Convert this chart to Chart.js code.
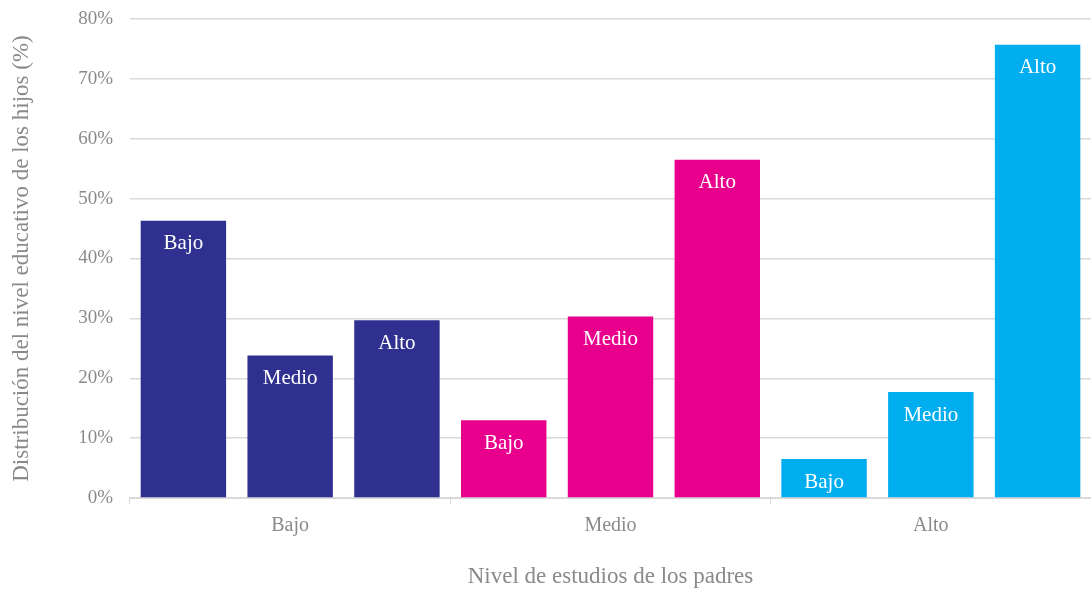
<!DOCTYPE html>
<html>
<head>
<meta charset="utf-8">
<script src="https://cdn.jsdelivr.net/npm/chart.js@4"></script>
<style>
  html, body { margin: 0; padding: 0; background: #fff; }
  #wrap { width: 1091px; height: 591px; }
</style>
</head>
<body>
<div id="wrap"><canvas id="chart"></canvas></div>
<script>
// Nivel de estudios de los padres (eje X)
const padres = ['Bajo', 'Medio', 'Alto'];
// Nivel educativo de los hijos (una serie por nivel)
const hijos = ['Bajo', 'Medio', 'Alto'];
const hijosBajo = [46.3, 13.0, 6.5];
const hijosMedio = [23.8, 30.3, 17.7];
const hijosAlto = [29.7, 56.5, 75.7];
const coloresPadres = ['#303090', '#E8008C', '#00AEEF'];

const fuente = "'Liberation Serif', 'DejaVu Serif', serif";
const gris = '#8a8a8a';

// etiqueta blanca dentro de cada barra
const etiquetas = {
    id: 'etiquetas',
    afterDatasetsDraw(chart) {
        const ctx = chart.ctx;
        ctx.save();
        ctx.fillStyle = '#ffffff';
        ctx.font = '21px ' + fuente;
        ctx.textAlign = 'center';
        ctx.textBaseline = 'middle';
        chart.data.datasets.forEach((ds, i) => {
            chart.getDatasetMeta(i).data.forEach(bar => {
                ctx.fillText(ds.label, bar.x, bar.y + 23);
            });
        });
        ctx.restore();
    }
};

const ctx = document.getElementById('chart').getContext('2d');
const chart = new Chart(ctx, {
    type: 'bar',
    data: {
        labels: padres,
        datasets: [
            { label: hijos[0], data: hijosBajo, backgroundColor: coloresPadres },
            { label: hijos[1], data: hijosMedio, backgroundColor: coloresPadres },
            { label: hijos[2], data: hijosAlto, backgroundColor: coloresPadres }
        ]
    },
    options: {
        responsive: true,
        maintainAspectRatio: false,
        animation: false,
        layout: { padding: { top: 19, right: 0, left: 4, bottom: 0 } },
        categoryPercentage: 1.0,
        barPercentage: 0.8,
        plugins: {
            legend: { display: false },
            tooltip: { enabled: false }
        },
        scales: {
            x: {
                afterFit: s => { s.height = 93; s.paddingLeft = 0; s.paddingRight = 0; },
                grid: { offset: true, drawOnChartArea: false, tickLength: 6, color: '#d9d9d9' },
                border: { color: '#d9d9d9', width: 2 },
                ticks: { color: gris, font: { family: fuente, size: 20 }, padding: 10 },
                title: {
                    display: true,
                    text: 'Nivel de estudios de los padres',
                    color: gris,
                    font: { family: fuente, size: 23 },
                    padding: { top: 20, bottom: 0 }
                }
            },
            y: {
                min: 0,
                max: 80,
                afterFit: s => { s.width = 126; s.paddingTop = 0; s.paddingBottom = 0; },
                ticks: {
                    stepSize: 10,
                    color: gris,
                    font: { family: fuente, size: 19 },
                    padding: 17,
                    callback: v => v + '%'
                },
                grid: { color: '#d9d9d9', lineWidth: 1.5, drawTicks: false },
                border: { display: false },
                title: {
                    display: true,
                    text: 'Distribución del nivel educativo de los hijos (%)',
                    color: gris,
                    font: { family: fuente, size: 23 },
                    padding: { top: 4, bottom: 10 }
                }
            }
        }
    },
    plugins: [etiquetas]
});
</script>
</body>
</html>
